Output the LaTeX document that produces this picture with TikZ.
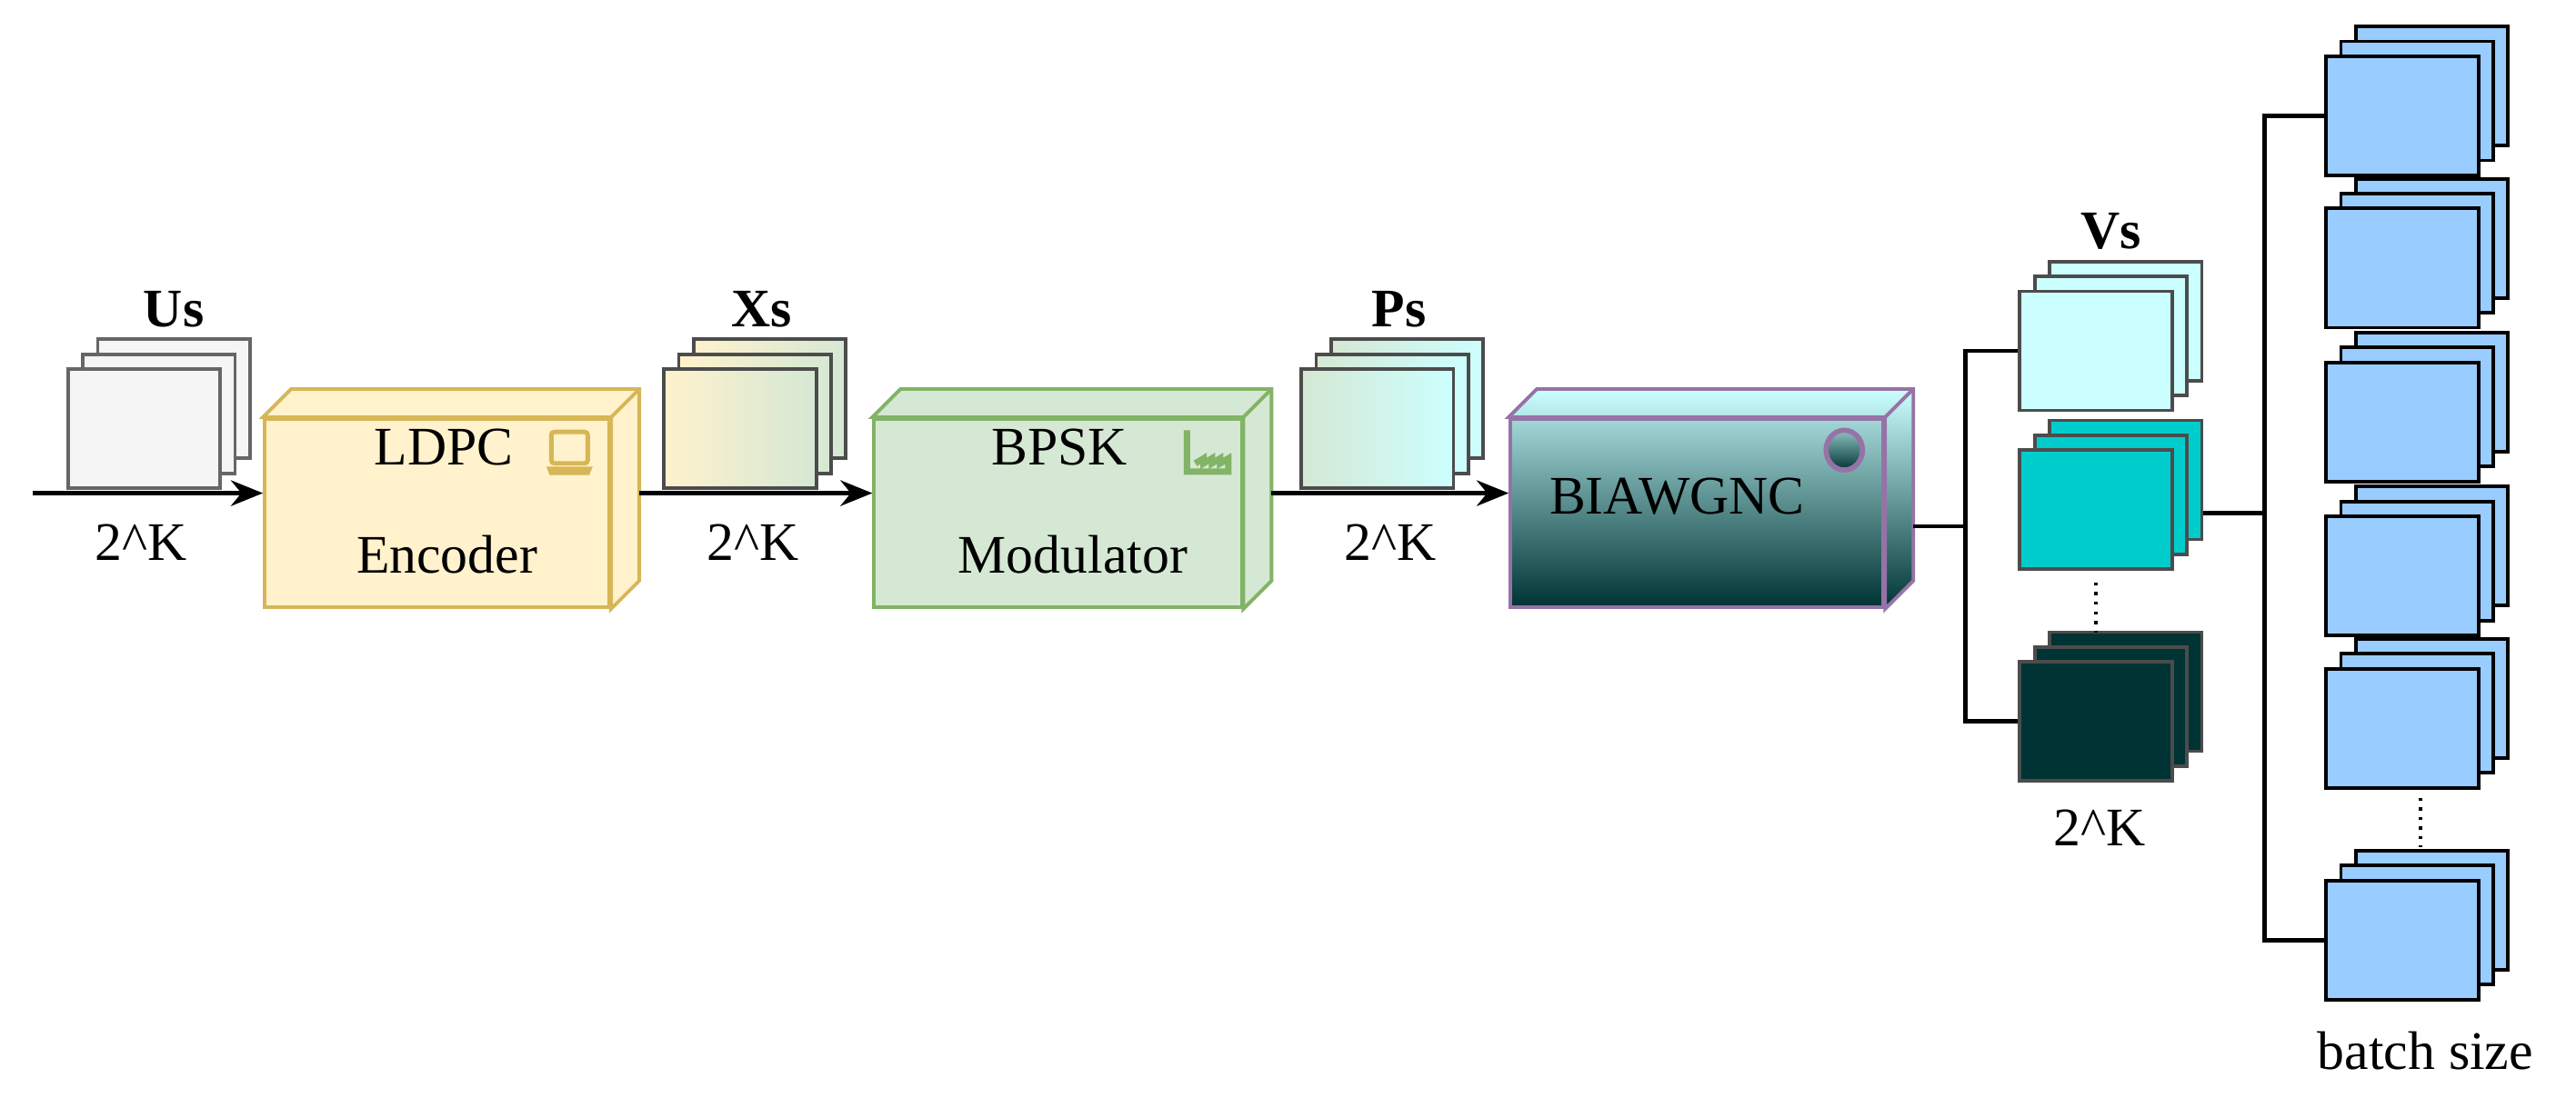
\documentclass[tikz,border=0pt]{standalone}
\usepackage{fontspec}
\setmainfont{Liberation Serif}
\usetikzlibrary{positioning,arrows.meta}
\definecolor{encfill}{HTML}{FFF2CC}
\definecolor{encdraw}{HTML}{D6B656}
\definecolor{modfill}{HTML}{D5E8D4}
\definecolor{moddraw}{HTML}{82B366}
\definecolor{chdraw}{HTML}{9673A6}
\definecolor{lightcyan}{HTML}{CCFFFF}
\definecolor{midcyan}{HTML}{00CCCC}
\definecolor{darkteal}{HTML}{003333}
\definecolor{batchblue}{HTML}{99CCFF}
\tikzset{
frame/.style={
  draw,
  line width=1.1pt,
  inner sep=0pt,
  minimum width=1.674cm,
  minimum height=1.31cm
  },
cubeface/.style={
  line width=1.1pt,
  inner sep=0pt,
  minimum height=2.07cm,
  align=center
  },
lbl/.style={font=\fontsize{17}{20}\selectfont},
blbl/.style={font=\fontsize{17}{20}\selectfont\bfseries}
}
% stack of three frames: name, centre x, centre y, front style
\newcommand{\framestack}[4]{
  \node[frame,#4] (#1-c) at (#2+18,#3-18) {};
  \node[frame,#4] (#1-b) at (#2+9,#3-9) {};
  \node[frame,#4] (#1) at (#2,#3) {};
}
% cube: name, centre x, centre y, width, style of front, colours of top/side
\newcommand{\cube}[6]{
  \node[cubeface,minimum width=#4,#5] (#1) at (#2,#3) {};
  \filldraw[line width=1.1pt,#6]
    (#1.north west) -- ++(17,-17) -| ([xshift=0.31cm,yshift=0.31cm]#1.south east)
    -- (#1.south east) -- (#1.north east) -- cycle;
  \draw[line width=1.1pt,#6] (#1.north east) -- ++(17,-17);
}

\begin{document}
\begin{tikzpicture}[x=0.0182cm, y=-0.0182cm, >={Stealth[length=10pt,width=8pt]}]
\useasboundingbox (0,0) rectangle (1556,663);

% source words
\framestack{us}{87}{259}{draw=black!60, fill=black!4}
\node[blbl] (uslbl) at (105,187) {Us};
\coordinate (in) at (20,298);

% encoder
\cube{enc}{264}{310}{3.79cm}{draw=encdraw, fill=encfill}{draw=encdraw, fill=encfill}
\node[lbl] (enctop) at (268,270) {LDPC};
\node[lbl] (encbot) at (270,335) {Encoder};
\draw[encdraw, line width=1.4pt, rounded corners=1pt] (333,261) rectangle (355,280);
\fill[encdraw] (330,282) -- (358,282) -- (356,287) -- (332,287) -- cycle;

\framestack{xs}{447}{259}{draw=black!70, left color=encfill, right color=modfill}
\node[blbl] (xslbl) at (460,187) {Xs};

% modulator
\cube{mod}{639}{310}{4.04cm}{draw=moddraw, fill=modfill}{draw=moddraw, fill=modfill}
\node[lbl] (modtop) at (640,270) {BPSK};
\node[lbl] (modbot) at (648,335) {Modulator};
\draw[moddraw, line width=2pt] (717,260) -- (717,285) -- (742,285) -- (742,277)
  -- (737,280) -- (737,277) -- (732,280) -- (732,277) -- (727,280) -- (727,277) -- (722,280);

\framestack{ps}{832}{259}{draw=black!70, left color=modfill, right color=lightcyan}
\node[blbl] (pslbl) at (845,187) {Ps};

% channel
\cube{ch}{1025}{310}{4.1cm}{draw=chdraw, top color=lightcyan!80!darkteal, bottom color=darkteal}{draw=chdraw, top color=lightcyan, bottom color=darkteal}
\node[lbl] (chtxt) at (1013,300) {BIAWGNC};
\draw[chdraw, line width=1.6pt, top color=lightcyan!70!darkteal, bottom color=darkteal] (1114,272) ellipse (11 and 12);

% arrows between blocks
\draw[->, line width=1.5pt] (in) -- (enc.west |- in);
\draw[->, line width=1.5pt] ([xshift=0.31cm]enc.east |- in) -- (mod.west |- in);
\draw[->, line width=1.5pt] ([xshift=0.31cm]mod.east |- in) -- (ch.west |- in);
\node[lbl] (k1) at (85,328) {2\^{}K};
\node[lbl] (k2) at (455,328) {2\^{}K};
\node[lbl] (k3) at (840,328) {2\^{}K};

% received words
\framestack{v1}{1266}{212}{draw=black!70, fill=lightcyan}
\framestack{v2}{1266}{308}{draw=black!70, fill=midcyan}
\framestack{v3}{1266}{436}{draw=black!70, fill=darkteal}
\node[blbl] (vslbl) at (1275,140) {Vs};
\node[lbl] (k4) at (1268,500) {2\^{}K};
\draw[dotted, line width=1pt] (1266,352) -- (1266,382);

\coordinate (busa) at (1187,318);
\draw[line width=1.4pt] ([xshift=0.31cm]ch.east |- busa) -- (busa);
\draw[line width=1.4pt] (v1.west) -| (busa) |- (v3.west);

% batches
\foreach \i/\yy in {1/70, 2/162, 3/255, 4/348, 5/440, 6/568}
  \framestack{b\i}{1451}{\yy}{draw=black, fill=batchblue};
\draw[dotted, line width=1pt] (1462,482) -- (1462,512);
\node[lbl] (batchlbl) at (1465,635) {batch size};

\coordinate (busb) at (1368,310);
\draw[line width=1.4pt] (v2-c.east |- busb) -- (busb);
\draw[line width=1.4pt] (b1.west) -| (busb) |- (b6.west);
\end{tikzpicture}
\end{document}
